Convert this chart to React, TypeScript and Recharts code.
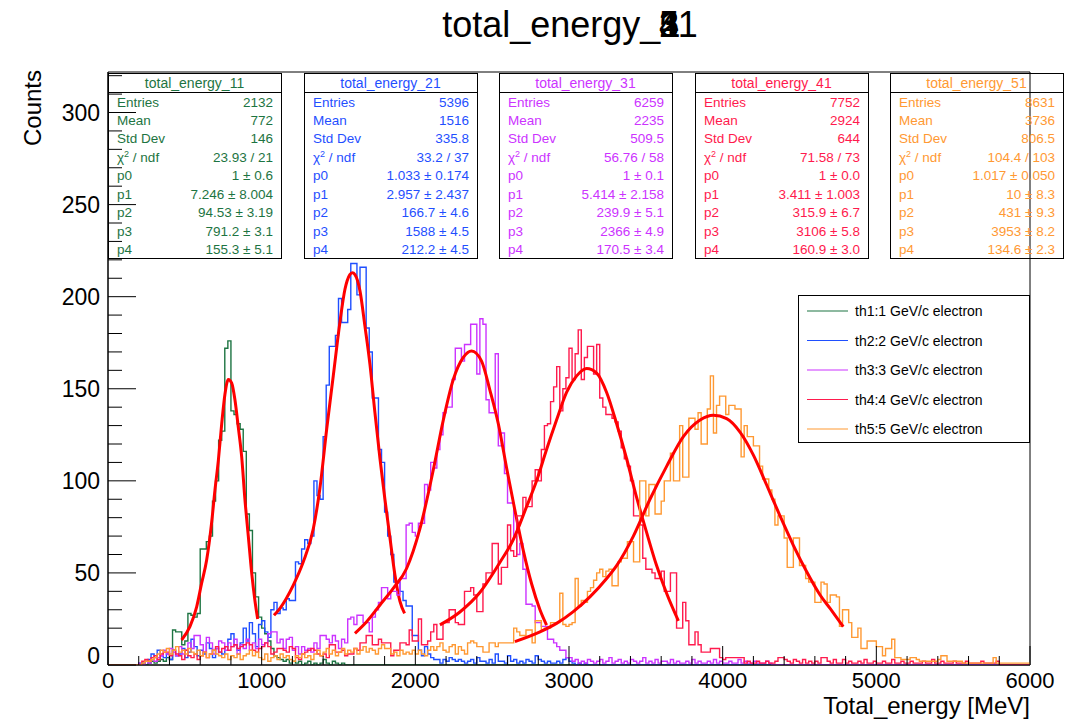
import React from 'react';
import { ComposedChart, Line, XAxis, YAxis, ReferenceArea } from 'recharts';

// ---------- axes ----------
const BIN = 20;
const X_MAX = 6000;
const Y_MAX = 322;
const xMajorTicks = [0, 1000, 2000, 3000, 4000, 5000, 6000];
const xMinorStep = 200;
const yMajorTicks = [0, 50, 100, 150, 200, 250, 300];
const yMinorStep = 10;

// ---------- series meta ----------
const seriesNames = ['th1:1 GeV/c electron', 'th2:2 GeV/c electron', 'th3:3 GeV/c electron', 'th4:4 GeV/c electron', 'th5:5 GeV/c electron'];
const seriesColors = ['#1d7442', '#1f4fff', '#cc33ff', '#ff1a4d', '#ff9933'];
const fitColor = '#ff0000';

// ---------- histogram counts (20 MeV bins) ----------
const th1Start = 200;
const th1Counts = [0, 1, 0, 1, 2, 1, 2, 3, 2, 4, 3, 19, 18, 18, 11, 13, 28, 27, 26, 28, 63, 63, 67, 70, 89, 100, 122, 127, 172, 176, 138, 136, 131, 128, 116, 82, 73, 50, 37, 26, 20, 17, 13, 9, 5, 4, 3, 2, 3, 1, 2, 1, 2, 0, 1, 2, 0, 1, 0, 1, 3, 1, 0, 2, 1, 0, 1];

const th2Start = 200;
const th2Counts = [1, 0, 2, 3, 6, 4, 8, 5, 4, 6, 3, 8, 5, 6, 9, 4, 7, 14, 10, 5, 8, 6, 12, 9, 4, 9, 7, 6, 10, 14, 17, 11, 8, 12, 20, 13, 23, 17, 10, 22,
  24, 18, 15, 30, 34, 28, 31, 30, 36, 35, 35, 56, 55, 63, 68, 66, 70, 100, 92, 90, 124, 152, 173, 173, 179, 199, 186, 186, 193, 218, 218, 201, 216, 216, 183, 170, 145, 145, 117, 110,
  83, 70, 60, 45, 45, 40, 35, 32, 32, 16, 16, 8, 5, 10, 6, 4, 3, 3, 1, 3, 2, 4, 3, 2, 3, 2, 1, 2, 3, 1, 4, 2, 2, 1, 3, 1, 6, 2, 2, 1,
  5, 2, 3, 1, 2, 1, 3, 2, 1, 5, 3, 2, 1, 2, 1, 1, 2, 1, 3, 4, 2, 1, 0, 1, 0, 1];

const th3Start = 200;
const th3Counts = [1, 0, 2, 1, 3, 2, 4, 5, 8, 6, 9, 7, 5, 10, 6, 8, 12, 9, 16, 16, 11, 7, 15, 12, 6, 9, 13, 12, 8, 12, 10, 14, 6, 11, 9, 14, 8, 12, 9, 14,
  11, 12, 17, 18, 18, 12, 14, 9, 14, 15, 8, 10, 6, 10, 8, 9, 7, 12, 9, 16, 16, 14, 12, 16, 13, 9, 14, 12, 25, 26, 22, 27, 27, 23, 23, 18, 26, 30, 34, 42,
  42, 36, 40, 40, 38, 47, 47, 76, 77, 72, 70, 77, 77, 98, 95, 110, 107, 117, 125, 137, 140, 140, 155, 172, 172, 165, 174, 174, 185, 185, 158, 188, 185, 144, 137, 137, 169, 119, 126, 104,
  88, 88, 70, 60, 66, 52, 33, 33, 32, 23, 23, 21, 21, 14, 14, 12, 10, 8, 8, 4, 4, 2, 3, 1, 2, 1, 3, 2, 1, 2, 3, 1, 2, 4, 1, 2, 3, 1, 2, 1,
  3, 2, 1, 2, 4, 1, 2, 1, 3, 1, 2, 2, 1, 3, 1, 2, 1, 1, 2, 1, 3, 1, 2, 1, 1, 2, 1, 3, 1, 2, 1, 1, 2, 1, 1, 3, 1, 2, 1, 1,
  2, 1, 1, 1, 2, 1];

const th4Start = 200;
const th4Counts = [0, 2, 3, 2, 4, 5, 3, 6, 7, 7, 5, 8, 6, 5, 3, 8, 5, 4, 6, 3, 5, 7, 4, 6, 8, 10, 7, 9, 10, 8, 10, 11, 9, 10, 11, 12, 11, 8, 7, 9,
  10, 12, 10, 6, 7, 9, 9, 8, 7, 10, 9, 4, 3, 6, 7, 8, 9, 8, 6, 5, 6, 4, 11, 11, 7, 7, 8, 5, 6, 6, 9, 8, 12, 12, 16, 16, 11, 11, 14, 12,
  12, 12, 5, 8, 8, 12, 12, 11, 19, 13, 13, 25, 11, 11, 13, 18, 22, 14, 14, 23, 23, 30, 30, 23, 22, 22, 40, 40, 42, 38, 29, 29, 44, 50, 50, 66, 66, 44, 53, 53,
  76, 62, 59, 81, 81, 91, 86, 86, 100, 106, 100, 117, 130, 131, 143, 151, 162, 138, 150, 156, 172, 155, 169, 182, 155, 167, 173, 173, 158, 174, 145, 140, 136, 136, 134, 132, 127, 118, 112, 108,
  100, 81, 81, 76, 58, 52, 52, 50, 47, 47, 51, 40, 40, 50, 50, 20, 20, 34, 24, 11, 11, 18, 11, 7, 7, 7, 9, 9, 9, 4, 3, 4, 4, 4, 4, 4, 4, 1, 2, 1,
  1, 2, 1, 1, 2, 1, 1, 2, 4, 4, 3, 2, 1, 3, 2, 1, 3, 1, 2, 1, 2, 1, 4, 4, 2, 1, 3, 1, 1, 3, 1, 2, 1, 1, 2, 1, 3, 1, 1, 2,
  1, 1, 2, 1, 1, 3, 1, 1, 2, 1, 1, 2, 1, 1, 1, 2, 1, 1, 3, 1, 1, 2, 1, 1, 1, 2, 1, 1, 1, 2, 1, 1, 1, 1, 2, 1, 1, 1, 1, 2];

const th5Start = 200;
const th5Counts = [0, 1, 2, 2, 3, 4, 6, 8, 7, 9, 6, 8, 10, 7, 8, 6, 9, 7, 6, 8, 5, 7, 4, 6, 8, 6, 5, 4, 6, 3, 5, 4, 6, 3, 5, 6, 8, 5, 7, 4,
  3, 6, 2, 4, 5, 3, 6, 4, 5, 3, 2, 5, 4, 6, 4, 5, 3, 6, 8, 5, 7, 9, 6, 8, 5, 7, 9, 6, 8, 7, 9, 6, 8, 10, 7, 9, 8, 6, 9, 11,
  9, 9, 6, 7, 5, 8, 6, 7, 6, 8, 6, 8, 6, 5, 8, 10, 8, 10, 12, 8, 7, 10, 11, 6, 10, 8, 6, 12, 13, 12, 10, 10, 7, 7, 12, 12, 10, 12, 12, 12,
  12, 12, 20, 18, 16, 16, 19, 19, 12, 24, 24, 19, 20, 20, 23, 23, 23, 39, 22, 21, 22, 23, 47, 32, 35, 34, 40, 42, 46, 50, 52, 48, 51, 52, 43, 43, 56, 58, 58, 67,
  67, 56, 56, 100, 100, 81, 98, 98, 82, 82, 89, 100, 100, 115, 100, 100, 130, 102, 102, 134, 134, 128, 137, 120, 120, 139, 157, 126, 141, 146, 146, 136, 141, 141, 139, 139, 113, 130, 124, 124,
  119, 119, 108, 101, 101, 95, 90, 76, 81, 81, 69, 53, 53, 69, 69, 54, 54, 47, 45, 45, 34, 34, 45, 44, 34, 38, 38, 37, 21, 30, 30, 23, 15, 15, 20, 9, 9, 13, 13, 13,
  10, 10, 5, 9, 9, 14, 4, 4, 3, 3, 3, 4, 4, 3, 2, 2, 2, 2, 2, 2, 3, 5, 5, 2, 2, 2, 2, 2, 1, 1, 1, 1, 1, 1, 1, 1, 1, 1, 4, 1,
  1, 1, 1, 1, 1, 1, 1, 1, 1, 1, 1];

// ---------- fitted curves ----------
const fit1E = [479, 533, 577, 609, 642, 674, 696, 718, 740, 761, 783, 805, 826, 848, 870, 891, 913, 935, 956, 974];
const fit1V = [13.6, 20.8, 31.6, 44.3, 57, 77, 95, 111, 131, 147, 155, 153, 144, 129, 113, 90, 70, 50, 35, 25];
const fit2E = [1080, 1119, 1206, 1271, 1336, 1379, 1423, 1466, 1509, 1542, 1574, 1590, 1607, 1640, 1672, 1705, 1737, 1770, 1802, 1835, 1867, 1900, 1930];
const fit2V = [27, 30.8, 43.4, 56, 74, 96, 128, 157, 186, 204, 212, 213, 212, 203, 184, 163, 137, 112, 90, 69, 49, 34.5, 28];
const fit3E = [1607, 1683, 1770, 1856, 1943, 2030, 2117, 2182, 2247, 2312, 2366, 2431, 2486, 2540, 2594, 2648, 2703, 2757, 2811, 2854];
const fit3V = [17.2, 23.5, 32.6, 41.6, 52.4, 74, 106, 133, 155, 167, 170.5, 165, 149, 131, 107, 84, 62, 44, 30, 21.7];
const fit4E = [2160, 2290, 2421, 2551, 2637, 2724, 2789, 2854, 2919, 2984, 3050, 3115, 3180, 3245, 3310, 3375, 3440, 3505, 3570, 3635, 3712];
const fit4V = [21.8, 28.8, 39.5, 55.8, 68, 86, 100, 117, 133, 148, 157, 161, 158.5, 148, 131, 112, 91, 72, 54, 39, 24];
const fit5E = [2648, 2811, 2919, 3028, 3136, 3245, 3310, 3419, 3527, 3636, 3744, 3853, 3939, 4026, 4113, 4200, 4287, 4373, 4460, 4547, 4634, 4699, 4785];
const fit5V = [12.7, 18, 22.6, 29, 37, 47, 54, 70, 90, 108, 124, 133, 135.6, 133.8, 126.5, 114, 97.6, 81, 65, 50.6, 38, 30.7, 20.8];

// ---------- stat boxes ----------
const titlePrefix = 'total_energy_';
const titleDigits = ['1', '2', '3', '4', '5'];
const titleSuffix = '1';
const statTitles = ['total_energy_11', 'total_energy_21', 'total_energy_31', 'total_energy_41', 'total_energy_51'];
const statEntries = ['2132', '5396', '6259', '7752', '8631'];
const statMean = ['772', '1516', '2235', '2924', '3736'];
const statStd = ['146', '335.8', '509.5', '644', '806.5'];
const statChi = ['23.93 / 21', '33.2 / 37', '56.76 / 58', '71.58 / 73', '104.4 / 103'];
const statP0 = ['1 ± 0.6', '1.033 ± 0.174', '1 ± 0.1', '1 ± 0.0', '1.017 ± 0.050'];
const statP1 = ['7.246 ± 8.004', '2.957 ± 2.437', '5.414 ± 2.158', '3.411 ± 1.003', '10 ± 8.3'];
const statP2 = ['94.53 ± 3.19', '166.7 ± 4.6', '239.9 ± 5.1', '315.9 ± 6.7', '431 ± 9.3'];
const statP3 = ['791.2 ± 3.1', '1588 ± 4.5', '2366 ± 4.9', '3106 ± 5.8', '3953 ± 8.2'];
const statP4 = ['155.3 ± 5.1', '212.2 ± 4.5', '170.5 ± 3.4', '160.9 ± 3.0', '134.6 ± 2.3'];

const FONT = '"Liberation Sans", Arial, Helvetica, sans-serif';

function buildHist(start: number, counts: number[]) {
  const pts: { e: number; v: number }[] = [];
  for (let e = 0; e <= X_MAX; e += BIN) {
    const i = Math.round((e - start) / BIN);
    const v = e < X_MAX && i >= 0 && i < counts.length ? counts[i] : 0;
    pts.push({ e, v });
  }
  return pts;
}
function buildFit(es: number[], vs: number[]) {
  return es.map((e, i) => ({ e, v: vs[i] }));
}

const hists = [
  buildHist(th1Start, th1Counts),
  buildHist(th2Start, th2Counts),
  buildHist(th3Start, th3Counts),
  buildHist(th4Start, th4Counts),
  buildHist(th5Start, th5Counts),
];
const fits = [
  buildFit(fit1E, fit1V),
  buildFit(fit2E, fit2V),
  buildFit(fit3E, fit3V),
  buildFit(fit4E, fit4V),
  buildFit(fit5E, fit5V),
];

const xTicks: number[] = [];
for (let v = 0; v <= X_MAX; v += xMinorStep) xTicks.push(v);
const yTicks: number[] = [];
for (let v = 0; v <= Y_MAX; v += yMinorStep) yTicks.push(v);

const XTick = (props: any) => {
  const { x, y, payload } = props;
  const v = payload.value;
  const major = xMajorTicks.includes(v);
  return (
    <g>
      <line x1={x} x2={x} y1={y} y2={y - (major ? 19 : 9)} stroke="#000" strokeWidth={1} />
      {major && (
        <text x={x} y={y + 23} textAnchor="middle" fontSize={22} fontFamily={FONT} fill="#000">
          {v}
        </text>
      )}
    </g>
  );
};

const YTick = (props: any) => {
  const { x, y, payload } = props;
  const v = payload.value;
  const major = yMajorTicks.includes(v);
  return (
    <g>
      <line x1={x} x2={x + (major ? 28 : 14)} y1={y} y2={y} stroke="#000" strokeWidth={1} />
      {major && (
        <text x={x - 8} y={v === 0 ? y - 1 : y + 8} textAnchor="end" fontSize={23} fontFamily={FONT} fill="#000">
          {v}
        </text>
      )}
    </g>
  );
};

const boxX = [108, 304, 499, 695, 890];
const BOX_W = 173;
const BOX_TOP = 73;
const BOX_H = 185;

function StatBox({ i }: { i: number }) {
  const x = boxX[i];
  const c = seriesColors[i];
  const rows: [React.ReactNode, string][] = [
    ['Entries', statEntries[i]],
    ['Mean', statMean[i]],
    ['Std Dev', statStd[i]],
    [
      <>
        χ<tspan baselineShift="super" fontSize={9}>2</tspan> / ndf
      </>,
      statChi[i],
    ],
    ['p0', statP0[i]],
    ['p1', statP1[i]],
    ['p2', statP2[i]],
    ['p3', statP3[i]],
    ['p4', statP4[i]],
  ];
  return (
    <g>
      <rect x={x + 0.5} y={BOX_TOP + 0.5} width={BOX_W} height={BOX_H} fill="none" stroke="#000" strokeWidth={1} />
      <line x1={x} x2={x + BOX_W} y1={BOX_TOP + 19.5} y2={BOX_TOP + 19.5} stroke="#000" strokeWidth={1} />
      <text x={x + BOX_W / 2} y={BOX_TOP + 15} textAnchor="middle" fontSize={14} fill={c} fontFamily={FONT}>
        {statTitles[i]}
      </text>
      {rows.map((r, k) => (
        <g key={k}>
          <text x={x + 9} y={BOX_TOP + 33.5 + k * 18.45} fontSize={13.5} fill={c} fontFamily={FONT}>
            {r[0]}
          </text>
          <text x={x + BOX_W - 8} y={BOX_TOP + 33.5 + k * 18.45} fontSize={13.5} fill={c} fontFamily={FONT} textAnchor="end">
            {r[1]}
          </text>
        </g>
      ))}
    </g>
  );
}

function Overlay() {
  return (
    <svg width={1071} height={721} style={{ position: 'absolute', left: 0, top: 0, pointerEvents: 'none' }}>
      {titleDigits.map((d, i) => (
        <text key={d} x={570} y={37} textAnchor="middle" fontSize={36} fontFamily={FONT} fill="#000">
          <tspan fill={i === 0 ? '#000' : 'none'}>{titlePrefix}</tspan>
          <tspan>{d}</tspan>
          <tspan fill={i === 0 ? '#000' : 'none'}>{titleSuffix}</tspan>
        </text>
      ))}
      <text transform="rotate(-90)" x={-70} y={41} textAnchor="end" fontSize={24} fontFamily={FONT} fill="#000">
        Counts
      </text>
      <text x={1030} y={714} textAnchor="end" fontSize={24} fontFamily={FONT} fill="#000">
        Total_energy [MeV]
      </text>
      {statTitles.map((t, i) => (
        <StatBox key={t} i={i} />
      ))}
      <g>
        <rect x={798.5} y={295.5} width={231} height={147} fill="none" stroke="#000" strokeWidth={1} />
        {seriesNames.map((n, i) => (
          <g key={n}>
            <line x1={807} x2={848} y1={311 + i * 29.5} y2={311 + i * 29.5} stroke={seriesColors[i]} strokeWidth={1.2} />
            <text x={855} y={316 + i * 29.5} fontSize={14} fontFamily={FONT} fill="#000">
              {n}
            </text>
          </g>
        ))}
      </g>
    </svg>
  );
}

export default function App() {
  return (
    <div style={{ position: 'absolute', left: 0, top: 0, width: 1071, height: 721, background: '#fff' }}>
      <ComposedChart width={1071} height={721} margin={{ top: 72, right: 41, bottom: 0, left: 0 }}>
        <XAxis
          type="number"
          dataKey="e"
          domain={[0, X_MAX]}
          ticks={xTicks}
          interval={0}
          tickSize={0}
          tickMargin={0}
          tickLine={false}
          tick={<XTick />}
          axisLine={{ stroke: '#000' }}
          height={56}
          allowDataOverflow
        />
        <YAxis
          type="number"
          domain={[0, Y_MAX]}
          ticks={yTicks}
          interval={0}
          tickSize={0}
          tickMargin={0}
          tickLine={false}
          tick={<YTick />}
          axisLine={{ stroke: '#000' }}
          width={108}
          allowDataOverflow
        />
        {hists.map((h, i) => (
          <React.Fragment key={i}>
            <Line
              data={h}
              dataKey="v"
              type="stepAfter"
              stroke={seriesColors[i]}
              strokeWidth={1.4}
              dot={false}
              activeDot={false}
              isAnimationActive={false}
            />
            <Line
              data={fits[i]}
              dataKey="v"
              type="monotone"
              stroke={fitColor}
              strokeWidth={3}
              dot={false}
              activeDot={false}
              isAnimationActive={false}
            />
          </React.Fragment>
        ))}
        <ReferenceArea x1={0} x2={X_MAX} y1={0} y2={Y_MAX} fill="none" stroke="#000" strokeWidth={1} ifOverflow="visible" />
      </ComposedChart>
      <Overlay />
    </div>
  );
}
